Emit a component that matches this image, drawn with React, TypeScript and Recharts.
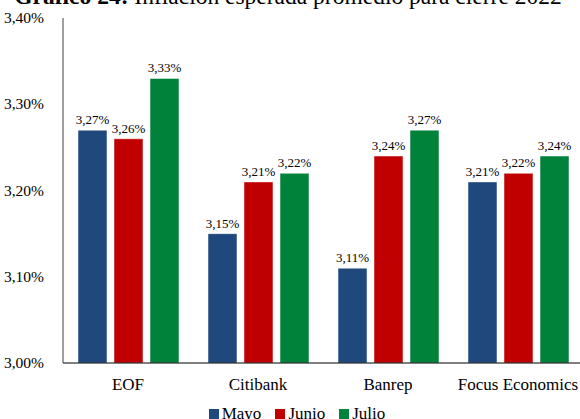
import React from 'react';
import { BarChart, Bar, XAxis, YAxis, LabelList } from 'recharts';

const categories = ['EOF', 'Citibank', 'Banrep', 'Focus Economics'];
const mayo = [3.27, 3.15, 3.11, 3.21];
const junio = [3.26, 3.21, 3.24, 3.22];
const julio = [3.33, 3.22, 3.27, 3.24];
const yTicks = [3.0, 3.1, 3.2, 3.3, 3.4];

const series = [
  { key: 'mayo', name: 'Mayo', color: '#1F497D' },
  { key: 'junio', name: 'Junio', color: '#C00000' },
  { key: 'julio', name: 'Julio', color: '#00823B' },
];

const data = categories.map((c, i) => ({
  name: c,
  mayo: mayo[i],
  junio: junio[i],
  julio: julio[i],
}));

const FONT = '"Liberation Serif", "Times New Roman", serif';

const fmt = (v: number) => `${v.toFixed(2).replace('.', ',')}%`;

const XTick = ({ x, y, payload }: any) => (
  <text x={x} y={y + 25} textAnchor="middle" fontFamily={FONT} fontSize={17} fill="#000">
    {payload.value}
  </text>
);

const YTick = ({ x, y, payload }: any) => (
  <text x={x} y={y + 5} textAnchor="end" fontFamily={FONT} fontSize={15.5} fill="#000">
    {fmt(payload.value)}
  </text>
);

export default function App() {
  return (
    <div
      style={{
        position: 'absolute',
        left: 0,
        top: 0,
        width: 580,
        height: 419,
        overflow: 'hidden',
        background: '#fff',
        fontFamily: FONT,
      }}
    >
      <div
        style={{
          position: 'absolute',
          top: -15,
          left: 0,
          width: 576,
          textAlign: 'center',
          fontSize: 23.5,
          lineHeight: '23.5px',
          whiteSpace: 'nowrap',
          color: '#000',
        }}
      >
        <b>Gráfico 24:</b> Inflación esperada promedio para cierre 2022
      </div>
      <BarChart
        width={600}
        height={419}
        data={data}
        margin={{ top: 18, right: 17, left: 0, bottom: 0 }}
        barSize={29}
        barGap={7}
      >
        <XAxis
          dataKey="name"
          height={56}
          tickLine={false}
          tickSize={0}
          tick={<XTick />}
          axisLine={{ stroke: '#000', strokeWidth: 1 }}
        />
        <YAxis
          width={63}
          domain={[3.0, 3.4]}
          ticks={yTicks}
          tickLine={false}
          tickSize={0}
          tickMargin={19}
          tick={<YTick />}
          axisLine={{ stroke: '#404040', strokeWidth: 1 }}
          allowDataOverflow
        />
        {series.map((s) => (
          <Bar
            key={s.key}
            dataKey={s.key}
            name={s.name}
            fill={s.color}
            stroke="#ffffff"
            strokeOpacity={0.5}
            strokeWidth={1}
            isAnimationActive={false}
          >
            <LabelList
              dataKey={s.key}
              position="top"
              offset={6}
              formatter={(v: any) => fmt(Number(v))}
              style={{ fontFamily: FONT, fontSize: 13, fill: '#000' }}
            />
          </Bar>
        ))}
      </BarChart>
      <div
        style={{
          position: 'absolute',
          top: 403,
          left: 0,
          width: 594,
          display: 'flex',
          justifyContent: 'center',
          alignItems: 'center',
          fontSize: 17,
          lineHeight: '22px',
          color: '#000',
          whiteSpace: 'nowrap',
        }}
      >
        {series.map((s, i) => (
          <span
            key={s.key}
            style={{ display: 'inline-flex', alignItems: 'center', marginLeft: i === 0 ? 0 : 14 }}
          >
            <span
              style={{ display: 'inline-block', width: 10, height: 10, background: s.color, marginRight: 3 }}
            />
            {s.name}
          </span>
        ))}
      </div>
    </div>
  );
}
